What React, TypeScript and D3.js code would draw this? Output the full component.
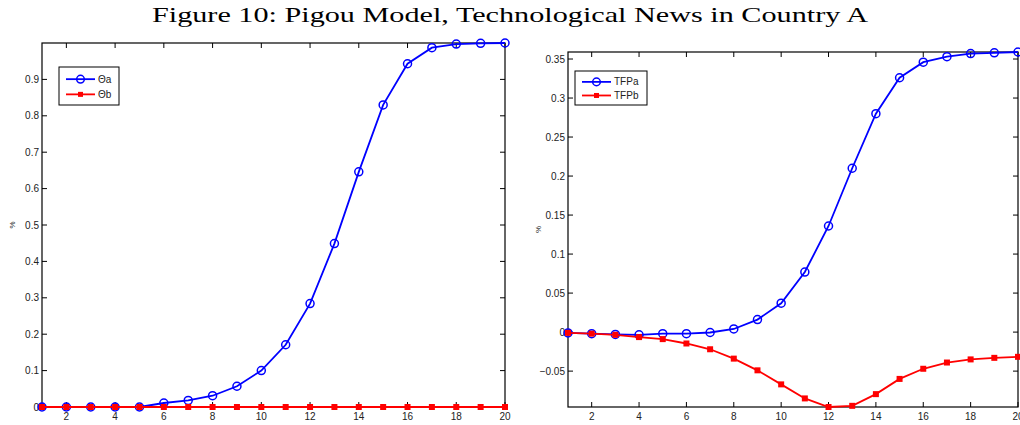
import React from "react";
import * as d3 from "d3";

const periods = d3.range(1, 21);

const thetaA = [0, 0, 0, 0, 0, 0.011, 0.018, 0.031, 0.057, 0.1, 0.171, 0.284, 0.449, 0.646, 0.83, 0.943, 0.987, 0.997, 0.999, 1.0];
const thetaB = [0, 0, 0, 0, 0, 0, 0, 0, 0, 0, 0, 0, 0, 0, 0, 0, 0, 0, 0, 0];

const tfpA = [-0.001, -0.002, -0.003, -0.0035, -0.002, -0.002, -0.0005, 0.004, 0.016, 0.037, 0.077, 0.136, 0.21, 0.28, 0.326, 0.346, 0.353, 0.357, 0.358, 0.359];
const tfpB = [-0.001, -0.002, -0.0035, -0.0064, -0.009, -0.0146, -0.022, -0.034, -0.049, -0.067, -0.085, -0.096, -0.0945, -0.0795, -0.06, -0.047, -0.039, -0.035, -0.033, -0.0317];

const xTicks = [2, 4, 6, 8, 10, 12, 14, 16, 18, 20];
const leftYTicks = [0, 0.1, 0.2, 0.3, 0.4, 0.5, 0.6, 0.7, 0.8, 0.9];
const rightYTicks = [-0.05, 0, 0.05, 0.1, 0.15, 0.2, 0.25, 0.3, 0.35];

const sans = "Liberation Sans, Arial, sans-serif";

type PanelProps = {
  left: number;
  top: number;
  right: number;
  bottom: number;
  yDomain: [number, number];
  yTicks: number[];
  a: number[];
  b: number[];
  names: [string, string];
  legend: { x: number; y: number; w: number; h: number };
  fmt: (v: number) => string;
};

const Panel = ({ left, top, right, bottom, yDomain, yTicks, a, b, names, legend, fmt }: PanelProps) => {
  const x = d3.scaleLinear().domain([1, 20]).range([left, right]);
  const y = d3.scaleLinear().domain(yDomain).range([bottom, top]);
  const line = d3
    .line<number>()
    .x((_, i) => x(periods[i]))
    .y((d) => y(d));
  const tl = 5;

  return (
    <g>
      <defs>
        <clipPath id={`clip-${left}`}>
          <rect x={left - 6} y={top - 6} width={right - left + 12} height={bottom - top + 12} />
        </clipPath>
      </defs>
      <rect x={left} y={top} width={right - left} height={bottom - top} fill="white" stroke="black" strokeWidth={1.2} />
      {xTicks.map((t) => (
        <g key={`x${t}`}>
          <line x1={x(t)} x2={x(t)} y1={bottom} y2={bottom - tl} stroke="black" />
          <line x1={x(t)} x2={x(t)} y1={top} y2={top + tl} stroke="black" />
          <text x={x(t)} y={bottom + 13} fontSize={10} fontFamily={sans} textAnchor="middle" fill="#222">
            {t}
          </text>
        </g>
      ))}
      {yTicks.map((t) => (
        <g key={`y${t}`}>
          <line x1={left} x2={left + tl} y1={y(t)} y2={y(t)} stroke="black" />
          <line x1={right} x2={right - tl} y1={y(t)} y2={y(t)} stroke="black" />
          <text x={left - 3} y={y(t) + 3.5} fontSize={10} fontFamily={sans} textAnchor="end" fill="#222">
            {fmt(t)}
          </text>
        </g>
      ))}
      <text
        transform={`translate(${left - 27},${(top + bottom) / 2}) rotate(-90)`}
        fontSize={8}
        fontFamily={sans}
        textAnchor="middle"
        fill="#222"
      >
        %
      </text>
      <g clipPath={`url(#clip-${left})`}>
        <path d={line(a) ?? ""} fill="none" stroke="#0000ff" strokeWidth={1.8} />
        {a.map((d, i) => (
          <circle key={`a${i}`} cx={x(periods[i])} cy={y(d)} r={4} fill="none" stroke="#0000ff" strokeWidth={1.5} />
        ))}
        <path d={line(b) ?? ""} fill="none" stroke="#ff0000" strokeWidth={1.8} />
        {b.map((d, i) => (
          <rect key={`b${i}`} x={x(periods[i]) - 3} y={y(d) - 3} width={6} height={6} fill="#ff0000" />
        ))}
      </g>
      <rect x={legend.x} y={legend.y} width={legend.w} height={legend.h} fill="white" stroke="black" strokeWidth={1} />
      {names.map((n, i) => {
        const cy = legend.y + legend.h * (i === 0 ? 0.32 : 0.72);
        const color = i === 0 ? "#0000ff" : "#ff0000";
        return (
          <g key={n}>
            <line x1={legend.x + 7} x2={legend.x + 36} y1={cy} y2={cy} stroke={color} strokeWidth={1.8} />
            {i === 0 ? (
              <circle cx={legend.x + 21.5} cy={cy} r={3.8} fill="none" stroke={color} strokeWidth={1.5} />
            ) : (
              <rect x={legend.x + 19} y={cy - 2.5} width={5} height={5} fill={color} />
            )}
            <text x={legend.x + 39} y={cy + 3.5} fontSize={10} fontFamily={sans} fill="#222">
              {n}
            </text>
          </g>
        );
      })}
    </g>
  );
};

const fmtLeft = (v: number) => (v === 0 ? "0" : String(+v.toFixed(1)));
const fmtRight = (v: number) => (v === 0 ? "0" : (v < 0 ? "\u2212" : "") + String(+Math.abs(v).toFixed(2)));

export default function App() {
  return (
    <svg width={1020} height={425} style={{ position: "absolute", left: 0, top: 0, background: "white" }}>
      <rect width={1020} height={425} fill="white" />
      <text
        x={510}
        y={22}
        fontSize={21}
        fontFamily="Liberation Serif, DejaVu Serif, serif"
        textAnchor="middle"
        textLength={716}
        lengthAdjust="spacingAndGlyphs"
      >
        Figure 10: Pigou Model, Technological News in Country A
      </text>
      <Panel
        left={42}
        top={43}
        right={505}
        bottom={407}
        yDomain={[0, 1]}
        yTicks={leftYTicks}
        a={thetaA}
        b={thetaB}
        names={["\u0398a", "\u0398b"]}
        legend={{ x: 59, y: 67, w: 60, h: 38 }}
        fmt={fmtLeft}
      />
      <Panel
        left={568}
        top={52}
        right={1018}
        bottom={407}
        yDomain={[-0.096, 0.359]}
        yTicks={rightYTicks}
        a={tfpA}
        b={tfpB}
        names={["TFPa", "TFPb"]}
        legend={{ x: 575, y: 71, w: 72, h: 34 }}
        fmt={fmtRight}
      />
    </svg>
  );
}
